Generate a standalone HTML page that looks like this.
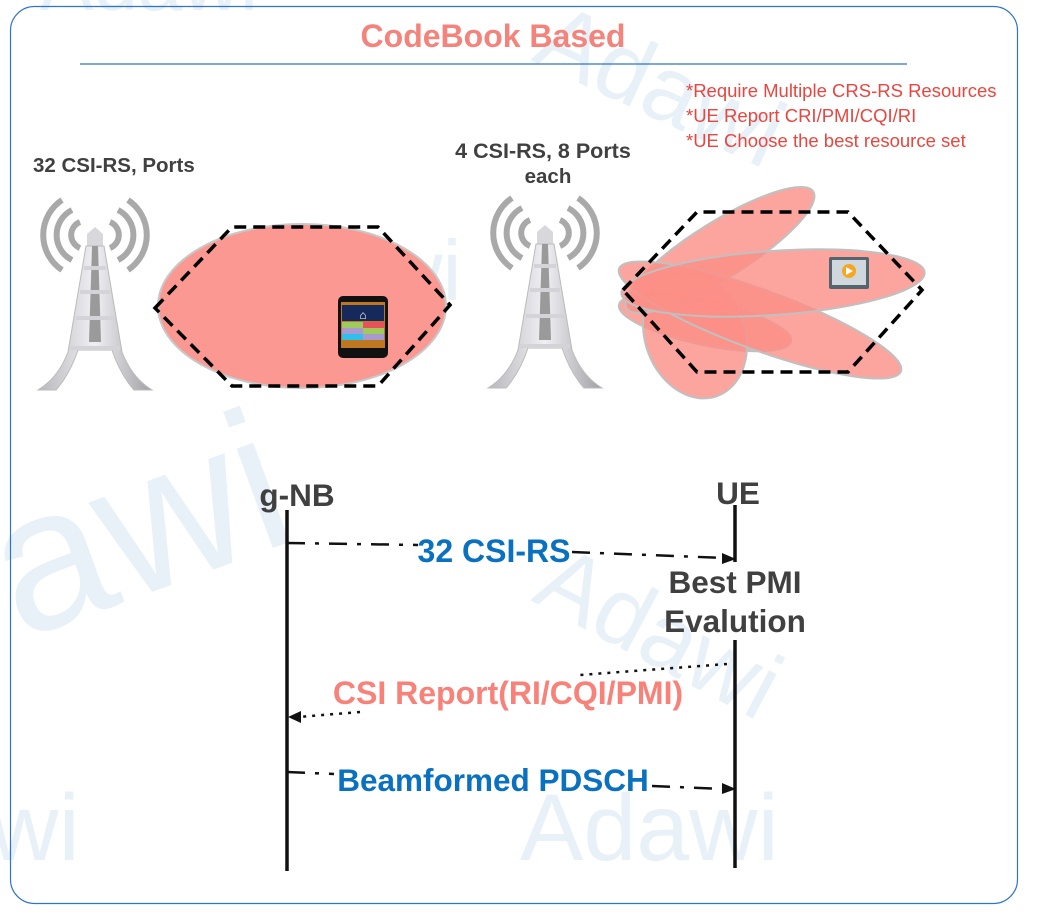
<!DOCTYPE html>
<html><head><meta charset="utf-8"><style>
html,body{margin:0;padding:0;background:#fff;}
svg{display:block;font-family:"Liberation Sans",Arial,sans-serif;}
</style></head><body>
<svg width="1039" height="919" viewBox="0 0 1039 919" xmlns="http://www.w3.org/2000/svg">
<rect x="0" y="0" width="1039" height="919" fill="#fff"/>
<!-- watermarks -->
<g fill="#e8f0f8" font-family="Liberation Sans,Arial,sans-serif">
<text x="40" y="10" font-size="80">Adawi</text>
<text x="530" y="60" font-size="95" transform="rotate(25 530 60)">Adawi</text>
<text x="230" y="300" font-size="85">Adawi</text>
<text x="20" y="640" font-size="200" transform="rotate(-20 20 640)">awi</text>
<text x="530" y="600" font-size="95" transform="rotate(28 530 600)">Adawi</text>
<text x="520" y="860" font-size="95">Adawi</text>
<text x="-10" y="860" font-size="95">wi</text>
</g>
<rect x="10.5" y="6.5" width="1007" height="897" rx="24" fill="none" stroke="#2e75c8" stroke-width="1.2"/>
<text x="493" y="47" text-anchor="middle" font-size="32" font-weight="bold" fill="#f4837b">CodeBook Based</text>
<line x1="80" y1="64" x2="907" y2="64" stroke="#2e75c8" stroke-width="1.2"/>
<g font-size="18.5" fill="#e8463f">
<text x="686" y="97">*Require Multiple CRS-RS Resources</text>
<text x="686" y="122">*UE Report CRI/PMI/CQI/RI</text>
<text x="686" y="147">*UE Choose the best resource set</text>
</g>
<g font-size="20.5" font-weight="bold" fill="#404040">
<text x="33" y="172">32 CSI-RS, Ports</text>
<text x="543" y="158" text-anchor="middle" font-size="21.5">4 CSI-RS, 8 Ports</text>
<text x="548" y="183" text-anchor="middle">each</text>
</g>
<defs>
<linearGradient id="tg" x1="0" x2="1"><stop offset="0" stop-color="#b8b8bc"/><stop offset=".5" stop-color="#f0f0f4"/><stop offset="1" stop-color="#a0a0a4"/></linearGradient>
<g id="tower">
<g fill="none" stroke="#a9a9a9" stroke-width="6">
<path d="M40,20 A14,14 0 0 0 40,46"/><path d="M70,20 A14,14 0 0 1 70,46"/>
<path d="M32,8 A28,28 0 0 0 32,58"/><path d="M78,8 A28,28 0 0 1 78,58"/>
<path d="M22,-2 A42,42 0 0 0 22,68"/><path d="M88,-2 A42,42 0 0 1 88,68"/>
</g>
<path d="M47,32 L55,25 L63,32 L63,44 L47,44Z" fill="#d8d8dc"/>
<path d="M46,44 L64,44 L82,150 Q92,176 112,188 L94,188 Q80,172 72,148 L38,148 Q30,172 16,188 L-2,188 Q18,176 28,150Z" fill="url(#tg)" stroke="#bbb" stroke-width="1"/>
<path d="M52,44 L58,44 L61,140 L49,140Z" fill="#9a9a9a"/>
<g stroke="#d4d4d8" stroke-width="4"><line x1="44" y1="66" x2="66" y2="66"/><line x1="40" y1="90" x2="70" y2="90"/><line x1="36" y1="116" x2="74" y2="116"/><line x1="30" y1="146" x2="80" y2="146"/></g>
</g>
</defs>
<use href="#tower" x="40" y="202"/>
<use href="#tower" x="490" y="200"/>
<!-- ellipse 1 -->
<ellipse cx="302" cy="306" rx="144" ry="82" fill="#fb9891" stroke="#c8c8c8" stroke-width="2"/>
<polygon points="155,308 232,227 378,227 450,305 378,386 232,386" fill="none" stroke="#000" stroke-width="3.5" stroke-dasharray="12,7"/>
<!-- phone -->
<rect x="338" y="296" width="50" height="62" rx="5" fill="#111"/>
<rect x="341" y="302" width="44" height="46" fill="#c07820"/>
<rect x="342" y="305" width="42" height="16" fill="#15295a"/>
<text x="363" y="319" text-anchor="middle" font-size="12" fill="#fff">⌂</text>
<rect x="342" y="322" width="21" height="6" fill="#9ecb5c"/><rect x="363" y="322" width="21" height="6" fill="#e8505a"/>
<rect x="342" y="328" width="21" height="6" fill="#a89ad0"/><rect x="363" y="328" width="21" height="6" fill="#9ecb5c"/>
<rect x="342" y="334" width="21" height="6" fill="#30c0f0"/><rect x="363" y="334" width="21" height="6" fill="#a89ad0"/>
<!-- beams -->
<g fill="#fb8e86" fill-opacity="0.8" stroke="#c0c0c0" stroke-width="2">
<ellipse cx="705" cy="323" rx="88" ry="22" transform="rotate(12 705 323)"/>
<ellipse cx="695" cy="335" rx="65" ry="50" transform="rotate(70 695 335)"/>
<ellipse cx="720" cy="250" rx="110" ry="28" transform="rotate(-32 720 250)"/>
<ellipse cx="760" cy="320" rx="150" ry="30" transform="rotate(20 760 320)"/>
<ellipse cx="773" cy="283" rx="152" ry="32" transform="rotate(-4 773 283)"/>
</g>
<polygon points="623,290 697,212 848,212 922,290 848,372 697,372" fill="none" stroke="#000" stroke-width="3.5" stroke-dasharray="12,7"/>
<rect x="829" y="257" width="40" height="32" rx="2" fill="#546570"/>
<rect x="832" y="260" width="34" height="25" fill="#cfd8dc"/>
<circle cx="849" cy="271" r="7" fill="#f5a623"/><path d="M846,267 L853,271 L846,275Z" fill="#fff"/>
<!-- sequence -->
<g font-size="31.5" font-weight="bold" fill="#404040">
<text x="297" y="506" text-anchor="middle">g-NB</text>
<text x="738" y="504" text-anchor="middle">UE</text>
<text x="735" y="593" text-anchor="middle">Best PMI</text>
<text x="735" y="632" text-anchor="middle">Evalution</text>
</g>
<line x1="287" y1="510" x2="287" y2="871" stroke="#111" stroke-width="3.5"/>
<line x1="735" y1="505" x2="735" y2="562" stroke="#111" stroke-width="3.5"/>
<line x1="735" y1="640" x2="735" y2="868" stroke="#111" stroke-width="3.5"/>
<g stroke="#111" stroke-width="2.5" fill="none">
<path d="M287,543 L418,545" stroke-dasharray="18,10,4,10"/>
<path d="M572,552 L725,558" stroke-dasharray="18,10,4,10"/>
<path d="M727,664 L580,675" stroke-dasharray="3,6"/>
<path d="M360,712 L298,717" stroke-dasharray="3,6"/>
<path d="M287,772 L334,774" stroke-dasharray="18,10,4,10"/>
<path d="M652,786 L725,789" stroke-dasharray="18,10,4,10"/>
</g>
<path d="M736,559 L722,553 L722,564Z" fill="#111"/>
<path d="M288,717 L301,711 L301,723Z" fill="#111"/>
<path d="M736,789 L722,783 L722,794Z" fill="#111"/>
<text x="494" y="562" text-anchor="middle" font-size="32" font-weight="bold" fill="#0a70c0">32 CSI-RS</text>
<text x="508" y="704" text-anchor="middle" font-size="32" font-weight="bold" fill="#f8827a">CSI Report(RI/CQI/PMI)</text>
<text x="493" y="791" text-anchor="middle" font-size="31.5" font-weight="bold" fill="#0a70c0">Beamformed PDSCH</text>
</svg>
</body></html>
